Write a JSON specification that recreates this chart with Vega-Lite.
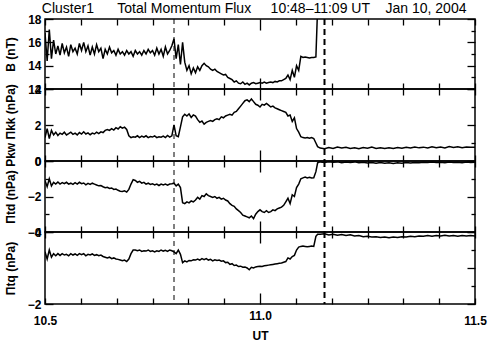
{
"$schema":"https://vega.github.io/schema/vega-lite/v6.json",
"padding":{"left":3,"top":2,"right":5,"bottom":4},
"title":{"text":"Cluster1\u00a0\u00a0\u00a0\u00a0\u00a0\u00a0Total Momentum Flux\u00a0\u00a0\u00a0\u00a0\u00a010:48–11:09 UT\u00a0\u00a0\u00a0\u00a0Jan 10, 2004","font":"Liberation Sans","fontSize":14,"fontWeight":"normal","color":"black","anchor":"middle","offset":-4,"dx":9},
"config":{
 "view":{"stroke":"black","strokeWidth":1.5},
 "axis":{"domain":false,"grid":false,"tickColor":"black","tickWidth":1.3,"labelColor":"black","labelFont":"Liberation Sans","labelFontSize":12,"labelFontWeight":"bold","titleFont":"Liberation Sans","titleFontSize":12,"titleFontWeight":"bold","titleColor":"black","labelFlush":false,"labelOverlap":false,"labelBound":false}
},
"datasets":{
"d":[
{"t":10.500,"B":16.8,"k":1.3,"d":-1.1,"q":-0.55},
{"t":10.505,"B":14.4,"k":1.8,"d":-1.45,"q":-0.75},
{"t":10.510,"B":17.1,"k":1.25,"d":-1.0,"q":-0.5},
{"t":10.515,"B":14.6,"k":1.7,"d":-1.4,"q":-0.7},
{"t":10.520,"B":16.2,"k":1.45,"d":-1.2,"q":-0.6},
{"t":10.525,"B":15.0,"k":1.6,"d":-1.3,"q":-0.66},
{"t":10.530,"B":15.7,"k":1.42,"d":-1.18,"q":-0.6},
{"t":10.535,"B":14.9,"k":1.55,"d":-1.3,"q":-0.65},
{"t":10.540,"B":15.9,"k":1.48,"d":-1.22,"q":-0.6},
{"t":10.545,"B":15.1,"k":1.6,"d":-1.28,"q":-0.64},
{"t":10.550,"B":15.6,"k":1.45,"d":-1.2,"q":-0.62},
{"t":10.555,"B":14.8,"k":1.52,"d":-1.3,"q":-0.66},
{"t":10.560,"B":15.8,"k":1.6,"d":-1.25,"q":-0.6},
{"t":10.565,"B":15.2,"k":1.48,"d":-1.32,"q":-0.64},
{"t":10.570,"B":15.5,"k":1.55,"d":-1.22,"q":-0.61},
{"t":10.575,"B":15.0,"k":1.45,"d":-1.3,"q":-0.65},
{"t":10.580,"B":15.9,"k":1.58,"d":-1.2,"q":-0.6},
{"t":10.585,"B":15.3,"k":1.5,"d":-1.28,"q":-0.63},
{"t":10.590,"B":16.0,"k":1.62,"d":-1.24,"q":-0.6},
{"t":10.595,"B":15.2,"k":1.5,"d":-1.34,"q":-0.66},
{"t":10.600,"B":15.7,"k":1.56,"d":-1.26,"q":-0.62},
{"t":10.605,"B":14.9,"k":1.46,"d":-1.32,"q":-0.64},
{"t":10.610,"B":15.6,"k":1.55,"d":-1.25,"q":-0.61},
{"t":10.615,"B":15.0,"k":1.5,"d":-1.3,"q":-0.65},
{"t":10.620,"B":15.8,"k":1.6,"d":-1.35,"q":-0.63},
{"t":10.625,"B":15.2,"k":1.52,"d":-1.4,"q":-0.66},
{"t":10.630,"B":15.5,"k":1.62,"d":-1.38,"q":-0.64},
{"t":10.635,"B":14.6,"k":1.58,"d":-1.45,"q":-0.68},
{"t":10.640,"B":15.4,"k":1.7,"d":-1.5,"q":-0.7},
{"t":10.645,"B":15.0,"k":1.75,"d":-1.48,"q":-0.72},
{"t":10.650,"B":15.6,"k":1.7,"d":-1.55,"q":-0.7},
{"t":10.655,"B":15.1,"k":1.8,"d":-1.52,"q":-0.74},
{"t":10.660,"B":15.3,"k":1.72,"d":-1.6,"q":-0.72},
{"t":10.665,"B":14.9,"k":1.85,"d":-1.58,"q":-0.75},
{"t":10.670,"B":15.4,"k":1.78,"d":-1.65,"q":-0.76},
{"t":10.675,"B":15.0,"k":1.9,"d":-1.7,"q":-0.78},
{"t":10.680,"B":15.2,"k":1.82,"d":-1.72,"q":-0.8},
{"t":10.685,"B":14.9,"k":1.88,"d":-1.68,"q":-0.78},
{"t":10.690,"B":15.3,"k":1.75,"d":-1.75,"q":-0.82},
{"t":10.695,"B":15.0,"k":1.4,"d":-1.6,"q":-0.75},
{"t":10.700,"B":15.2,"k":1.3,"d":-1.3,"q":-0.6},
{"t":10.705,"B":14.8,"k":1.35,"d":-1.05,"q":-0.5},
{"t":10.710,"B":15.3,"k":1.32,"d":-1.1,"q":-0.5},
{"t":10.715,"B":15.0,"k":1.4,"d":-1.2,"q":-0.52},
{"t":10.720,"B":15.2,"k":1.3,"d":-1.15,"q":-0.5},
{"t":10.725,"B":14.9,"k":1.38,"d":-1.25,"q":-0.54},
{"t":10.730,"B":15.3,"k":1.32,"d":-1.2,"q":-0.52},
{"t":10.735,"B":15.0,"k":1.4,"d":-1.3,"q":-0.53},
{"t":10.740,"B":15.4,"k":1.3,"d":-1.25,"q":-0.5},
{"t":10.745,"B":15.1,"k":1.36,"d":-1.32,"q":-0.54},
{"t":10.750,"B":15.3,"k":1.33,"d":-1.28,"q":-0.52},
{"t":10.755,"B":14.9,"k":1.4,"d":-1.35,"q":-0.55},
{"t":10.760,"B":15.5,"k":1.3,"d":-1.3,"q":-0.52},
{"t":10.765,"B":15.0,"k":1.35,"d":-1.38,"q":-0.54},
{"t":10.770,"B":15.4,"k":1.32,"d":-1.3,"q":-0.5},
{"t":10.775,"B":14.8,"k":1.38,"d":-1.35,"q":-0.53},
{"t":10.780,"B":15.6,"k":1.3,"d":-1.3,"q":-0.51},
{"t":10.785,"B":15.0,"k":1.42,"d":-1.36,"q":-0.54},
{"t":10.790,"B":15.3,"k":1.33,"d":-1.3,"q":-0.5},
{"t":10.795,"B":15.7,"k":1.4,"d":-1.28,"q":-0.52},
{"t":10.800,"B":16.3,"k":2.0,"d":-1.25,"q":-0.55},
{"t":10.805,"B":14.6,"k":1.4,"d":-1.4,"q":-0.6},
{"t":10.810,"B":15.8,"k":1.35,"d":-1.3,"q":-0.5},
{"t":10.815,"B":14.1,"k":1.9,"d":-1.5,"q":-0.62},
{"t":10.820,"B":16.0,"k":2.45,"d":-2.35,"q":-0.85},
{"t":10.825,"B":14.3,"k":2.6,"d":-2.4,"q":-0.8},
{"t":10.830,"B":13.6,"k":2.5,"d":-2.3,"q":-0.83},
{"t":10.835,"B":14.0,"k":2.62,"d":-2.36,"q":-0.79},
{"t":10.840,"B":13.3,"k":2.42,"d":-2.25,"q":-0.8},
{"t":10.845,"B":13.8,"k":2.56,"d":-2.3,"q":-0.77},
{"t":10.850,"B":13.4,"k":2.5,"d":-2.2,"q":-0.78},
{"t":10.855,"B":13.9,"k":2.3,"d":-2.05,"q":-0.75},
{"t":10.860,"B":13.6,"k":2.15,"d":-2.15,"q":-0.78},
{"t":10.865,"B":14.0,"k":2.22,"d":-1.95,"q":-0.74},
{"t":10.870,"B":14.2,"k":2.05,"d":-2.0,"q":-0.77},
{"t":10.875,"B":14.0,"k":2.15,"d":-1.85,"q":-0.74},
{"t":10.880,"B":13.9,"k":2.2,"d":-1.95,"q":-0.78},
{"t":10.885,"B":13.7,"k":2.25,"d":-2.0,"q":-0.76},
{"t":10.890,"B":13.6,"k":2.2,"d":-2.05,"q":-0.8},
{"t":10.895,"B":13.7,"k":2.3,"d":-2.0,"q":-0.77},
{"t":10.900,"B":13.5,"k":2.35,"d":-2.1,"q":-0.79},
{"t":10.905,"B":13.4,"k":2.3,"d":-2.05,"q":-0.78},
{"t":10.910,"B":13.3,"k":2.45,"d":-2.15,"q":-0.81},
{"t":10.915,"B":13.2,"k":2.4,"d":-2.1,"q":-0.8},
{"t":10.920,"B":13.25,"k":2.5,"d":-2.2,"q":-0.85},
{"t":10.925,"B":13.0,"k":2.55,"d":-2.25,"q":-0.84},
{"t":10.930,"B":12.9,"k":2.6,"d":-2.4,"q":-0.9},
{"t":10.935,"B":12.8,"k":2.55,"d":-2.5,"q":-0.88},
{"t":10.940,"B":12.6,"k":2.7,"d":-2.55,"q":-0.93},
{"t":10.945,"B":12.7,"k":2.75,"d":-2.7,"q":-0.92},
{"t":10.950,"B":12.5,"k":2.9,"d":-2.8,"q":-0.96},
{"t":10.955,"B":12.45,"k":3.05,"d":-2.9,"q":-0.95},
{"t":10.960,"B":12.6,"k":3.2,"d":-3.05,"q":-0.98},
{"t":10.965,"B":12.4,"k":3.35,"d":-3.1,"q":-0.97},
{"t":10.970,"B":12.5,"k":3.4,"d":-3.15,"q":-1.0},
{"t":10.975,"B":12.35,"k":3.3,"d":-3.2,"q":-1.05},
{"t":10.980,"B":12.5,"k":3.45,"d":-3.1,"q":-0.98},
{"t":10.985,"B":12.55,"k":3.3,"d":-3.25,"q":-1.0},
{"t":10.990,"B":12.45,"k":3.15,"d":-3.0,"q":-0.97},
{"t":10.995,"B":12.5,"k":3.1,"d":-2.85,"q":-0.96},
{"t":11.000,"B":12.55,"k":3.0,"d":-2.75,"q":-0.95},
{"t":11.005,"B":12.5,"k":3.15,"d":-2.85,"q":-0.96},
{"t":11.010,"B":12.6,"k":3.1,"d":-2.9,"q":-0.94},
{"t":11.015,"B":12.5,"k":3.2,"d":-2.8,"q":-0.93},
{"t":11.020,"B":12.55,"k":3.1,"d":-2.9,"q":-0.92},
{"t":11.025,"B":12.6,"k":3.0,"d":-2.85,"q":-0.91},
{"t":11.030,"B":12.55,"k":3.05,"d":-2.75,"q":-0.9},
{"t":11.035,"B":12.65,"k":2.95,"d":-2.8,"q":-0.89},
{"t":11.040,"B":12.6,"k":2.9,"d":-2.7,"q":-0.88},
{"t":11.045,"B":12.7,"k":2.85,"d":-2.65,"q":-0.87},
{"t":11.050,"B":12.7,"k":2.8,"d":-2.6,"q":-0.86},
{"t":11.055,"B":12.8,"k":2.75,"d":-2.5,"q":-0.84},
{"t":11.060,"B":12.9,"k":2.7,"d":-2.3,"q":-0.82},
{"t":11.065,"B":13.2,"k":2.5,"d":-2.1,"q":-0.72},
{"t":11.070,"B":12.8,"k":2.55,"d":-2.4,"q":-0.75},
{"t":11.075,"B":13.6,"k":2.2,"d":-1.9,"q":-0.68},
{"t":11.080,"B":13.0,"k":2.4,"d":-2.0,"q":-0.65},
{"t":11.085,"B":14.0,"k":1.8,"d":-1.5,"q":-0.5},
{"t":11.090,"B":13.6,"k":1.6,"d":-1.3,"q":-0.42},
{"t":11.095,"B":14.8,"k":1.35,"d":-1.0,"q":-0.4},
{"t":11.100,"B":14.7,"k":1.3,"d":-0.95,"q":-0.39},
{"t":11.105,"B":14.75,"k":1.28,"d":-0.9,"q":-0.4},
{"t":11.110,"B":14.7,"k":1.3,"d":-0.95,"q":-0.41},
{"t":11.115,"B":14.65,"k":1.26,"d":-0.92,"q":-0.4},
{"t":11.120,"B":14.7,"k":1.3,"d":-0.96,"q":-0.39},
{"t":11.125,"B":14.7,"k":1.25,"d":-0.95,"q":-0.4},
{"t":11.130,"B":14.75,"k":1.0,"d":-0.6,"q":-0.12},
{"t":11.134,"B":19,"k":0.8,"d":-0.1,"q":-0.06},
{"t":11.14,"B":null,"k":0.72,"d":-0.05,"q":-0.06},
{"t":11.15,"B":null,"k":0.68,"d":-0.08,"q":-0.05},
{"t":11.16,"B":null,"k":0.75,"d":-0.04,"q":-0.08},
{"t":11.17,"B":null,"k":0.7,"d":-0.07,"q":-0.06},
{"t":11.18,"B":null,"k":0.78,"d":-0.05,"q":-0.09},
{"t":11.19,"B":null,"k":0.72,"d":-0.1,"q":-0.07},
{"t":11.20,"B":null,"k":0.76,"d":-0.06,"q":-0.1},
{"t":11.21,"B":null,"k":0.7,"d":-0.09,"q":-0.08},
{"t":11.22,"B":null,"k":0.74,"d":-0.05,"q":-0.11},
{"t":11.23,"B":null,"k":0.68,"d":-0.1,"q":-0.1},
{"t":11.24,"B":null,"k":0.75,"d":-0.07,"q":-0.13},
{"t":11.25,"B":null,"k":0.71,"d":-0.11,"q":-0.12},
{"t":11.26,"B":null,"k":0.77,"d":-0.08,"q":-0.14},
{"t":11.27,"B":null,"k":0.7,"d":-0.12,"q":-0.13},
{"t":11.28,"B":null,"k":0.74,"d":-0.09,"q":-0.15},
{"t":11.29,"B":null,"k":0.69,"d":-0.13,"q":-0.14},
{"t":11.30,"B":null,"k":0.73,"d":-0.1,"q":-0.16},
{"t":11.31,"B":null,"k":0.7,"d":-0.14,"q":-0.14},
{"t":11.32,"B":null,"k":0.75,"d":-0.1,"q":-0.15},
{"t":11.33,"B":null,"k":0.71,"d":-0.12,"q":-0.13},
{"t":11.34,"B":null,"k":0.76,"d":-0.09,"q":-0.14},
{"t":11.35,"B":null,"k":0.72,"d":-0.11,"q":-0.12},
{"t":11.36,"B":null,"k":0.78,"d":-0.08,"q":-0.13},
{"t":11.37,"B":null,"k":0.73,"d":-0.1,"q":-0.11},
{"t":11.38,"B":null,"k":0.77,"d":-0.07,"q":-0.12},
{"t":11.39,"B":null,"k":0.72,"d":-0.09,"q":-0.1},
{"t":11.40,"B":null,"k":0.79,"d":-0.06,"q":-0.12},
{"t":11.41,"B":null,"k":0.74,"d":-0.09,"q":-0.1},
{"t":11.42,"B":null,"k":0.78,"d":-0.07,"q":-0.11},
{"t":11.43,"B":null,"k":0.73,"d":-0.1,"q":-0.09},
{"t":11.44,"B":null,"k":0.8,"d":-0.06,"q":-0.11},
{"t":11.45,"B":null,"k":0.75,"d":-0.09,"q":-0.1},
{"t":11.46,"B":null,"k":0.79,"d":-0.07,"q":-0.12},
{"t":11.47,"B":null,"k":0.74,"d":-0.1,"q":-0.1},
{"t":11.48,"B":null,"k":0.78,"d":-0.06,"q":-0.11},
{"t":11.49,"B":null,"k":0.76,"d":-0.09,"q":-0.1},
{"t":11.50,"B":null,"k":0.77,"d":-0.07,"q":-0.11}
]
},
"vconcat":[
{
 "width":430,"height":70,"data":{"name":"d"},
 "layer":[
  {"mark":{"type":"line","color":"black","strokeWidth":1.5,"clip":true},
   "encoding":{
    "x":{"field":"t","type":"quantitative","scale":{"domain":[10.5,11.5],"nice":false,"zero":false},"axis":{"orient":"bottom","title":null,"labels":false,"values":[10.5,10.58333,10.66667,10.75,10.83333,10.91667,11.0,11.08333,11.16667,11.25,11.33333,11.41667,11.5],"tickSize":{"condition":{"test":"abs(datum.value-11)>0.001","value":-6},"value":-11}}},
    "y":{"field":"B","type":"quantitative","scale":{"domain":[12,18],"nice":false,"zero":false},"axis":{"orient":"left","title":"B (nT)","titleX":-28,"values":[12,13,14,15,16,17,18],"format":"d","labelExpr":"datum.value % 2 == 0 ? datum.label : ''","labelPadding":12,"tickSize":{"condition":{"test":"datum.value % 2 != 0","value":-4},"value":-8}}}}},
  {"mark":{"type":"line","opacity":0,"clip":true},
   "encoding":{
    "x":{"field":"t","type":"quantitative","axis":{"orient":"top","title":null,"labels":false,"values":[10.5,10.58333,10.66667,10.75,10.83333,10.91667,11.0,11.08333,11.16667,11.25,11.33333,11.41667,11.5],"tickSize":{"condition":{"test":"abs(datum.value-11)>0.001","value":-6},"value":-11}}},
    "y":{"field":"B","type":"quantitative","axis":{"orient":"right","title":null,"labels":false,"values":[12,13,14,15,16,17,18],"tickSize":{"condition":{"test":"datum.value % 2 != 0","value":-4},"value":-8}}}}},
  {"data":{"values":[{"t":10.8}]},"mark":{"type":"rule","color":"black","strokeDash":[5,4],"strokeWidth":1},"encoding":{"x":{"field":"t","type":"quantitative","axis":null}}},
  {"data":{"values":[{"t":11.15}]},"mark":{"type":"rule","color":"black","strokeDash":[6,4],"strokeWidth":2},"encoding":{"x":{"field":"t","type":"quantitative","axis":null}}}
 ],
 "resolve":{"axis":{"x":"independent","y":"independent"}}
},
{
 "width":430,"height":72,"data":{"name":"d"},
 "layer":[
  {"mark":{"type":"line","color":"black","strokeWidth":1.5,"clip":true},
   "encoding":{
    "x":{"field":"t","type":"quantitative","scale":{"domain":[10.5,11.5],"nice":false,"zero":false},"axis":{"orient":"bottom","title":null,"labels":false,"values":[10.5,10.58333,10.66667,10.75,10.83333,10.91667,11.0,11.08333,11.16667,11.25,11.33333,11.41667,11.5],"tickSize":{"condition":{"test":"abs(datum.value-11)>0.001","value":-6},"value":-11}}},
    "y":{"field":"k","type":"quantitative","scale":{"domain":[0,4],"nice":false},"axis":{"orient":"left","title":"Pkw  Πkk (nPa)","titleX":-28,"values":[0,1,2,3,4],"format":"d","labelExpr":"datum.value % 2 == 0 ? datum.label : ''","labelPadding":12,"tickSize":{"condition":{"test":"datum.value % 2 != 0","value":-4},"value":-8}}}}},
  {"mark":{"type":"line","opacity":0,"clip":true},
   "encoding":{
    "x":{"field":"t","type":"quantitative","axis":{"orient":"top","title":null,"labels":false,"values":[10.5,10.58333,10.66667,10.75,10.83333,10.91667,11.0,11.08333,11.16667,11.25,11.33333,11.41667,11.5],"tickSize":{"condition":{"test":"abs(datum.value-11)>0.001","value":-6},"value":-11}}},
    "y":{"field":"k","type":"quantitative","axis":{"orient":"right","title":null,"labels":false,"values":[0,1,2,3,4],"tickSize":{"condition":{"test":"datum.value % 2 != 0","value":-4},"value":-8}}}}},
  {"data":{"values":[{"t":10.8}]},"mark":{"type":"rule","color":"black","strokeDash":[5,4],"strokeWidth":1},"encoding":{"x":{"field":"t","type":"quantitative","axis":null}}},
  {"data":{"values":[{"t":11.15}]},"mark":{"type":"rule","color":"black","strokeDash":[6,4],"strokeWidth":2},"encoding":{"x":{"field":"t","type":"quantitative","axis":null}}}
 ],
 "resolve":{"axis":{"x":"independent","y":"independent"}}
},
{
 "width":430,"height":71,"data":{"name":"d"},
 "layer":[
  {"mark":{"type":"line","color":"black","strokeWidth":1.5,"clip":true},
   "encoding":{
    "x":{"field":"t","type":"quantitative","scale":{"domain":[10.5,11.5],"nice":false,"zero":false},"axis":{"orient":"bottom","title":null,"labels":false,"values":[10.5,10.58333,10.66667,10.75,10.83333,10.91667,11.0,11.08333,11.16667,11.25,11.33333,11.41667,11.5],"tickSize":{"condition":{"test":"abs(datum.value-11)>0.001","value":-6},"value":-11}}},
    "y":{"field":"d","type":"quantitative","scale":{"domain":[-4,0],"nice":false},"axis":{"orient":"left","title":"Πtd (nPa)","titleX":-28,"values":[-4,-3,-2,-1,0],"format":"d","labelExpr":"datum.value % 2 == 0 ? datum.label : ''","labelPadding":12,"tickSize":{"condition":{"test":"datum.value % 2 != 0","value":-4},"value":-8}}}}},
  {"mark":{"type":"line","opacity":0,"clip":true},
   "encoding":{
    "x":{"field":"t","type":"quantitative","axis":{"orient":"top","title":null,"labels":false,"values":[10.5,10.58333,10.66667,10.75,10.83333,10.91667,11.0,11.08333,11.16667,11.25,11.33333,11.41667,11.5],"tickSize":{"condition":{"test":"abs(datum.value-11)>0.001","value":-6},"value":-11}}},
    "y":{"field":"d","type":"quantitative","axis":{"orient":"right","title":null,"labels":false,"values":[-4,-3,-2,-1,0],"tickSize":{"condition":{"test":"datum.value % 2 != 0","value":-4},"value":-8}}}}},
  {"data":{"values":[{"t":10.8}]},"mark":{"type":"rule","color":"black","strokeDash":[5,4],"strokeWidth":1},"encoding":{"x":{"field":"t","type":"quantitative","axis":null}}},
  {"data":{"values":[{"t":11.15}]},"mark":{"type":"rule","color":"black","strokeDash":[6,4],"strokeWidth":2},"encoding":{"x":{"field":"t","type":"quantitative","axis":null}}}
 ],
 "resolve":{"axis":{"x":"independent","y":"independent"}}
},
{
 "width":430,"height":72,"data":{"name":"d"},
 "layer":[
  {"mark":{"type":"line","color":"black","strokeWidth":1.5,"clip":true},
   "encoding":{
    "x":{"field":"t","type":"quantitative","scale":{"domain":[10.5,11.5],"nice":false,"zero":false},"axis":{"orient":"bottom","title":"UT","titlePadding":4,"format":".1f","labelPadding":17,"labelExpr":"abs(datum.value*2-round(datum.value*2))<0.001 ? datum.label : ''","values":[10.5,10.58333,10.66667,10.75,10.83333,10.91667,11.0,11.08333,11.16667,11.25,11.33333,11.41667,11.5],"tickSize":{"condition":{"test":"abs(datum.value-11)>0.001","value":-6},"value":-11}}},
    "y":{"field":"q","type":"quantitative","scale":{"domain":[-2,0],"nice":false},"axis":{"orient":"left","title":"Πtq (nPa)","titleX":-28,"values":[-2,-1.5,-1,-0.5,0],"format":"d","labelExpr":"datum.value % 1 == 0 ? datum.label : ''","labelPadding":12,"tickSize":{"condition":{"test":"datum.value % 1 != 0","value":-4},"value":-8}}}}},
  {"mark":{"type":"line","opacity":0,"clip":true},
   "encoding":{
    "x":{"field":"t","type":"quantitative","axis":{"orient":"top","title":null,"labels":false,"values":[10.5,10.58333,10.66667,10.75,10.83333,10.91667,11.0,11.08333,11.16667,11.25,11.33333,11.41667,11.5],"tickSize":{"condition":{"test":"abs(datum.value-11)>0.001","value":-6},"value":-11}}},
    "y":{"field":"q","type":"quantitative","axis":{"orient":"right","title":null,"labels":false,"values":[-2,-1.5,-1,-0.5,0],"tickSize":{"condition":{"test":"datum.value % 1 != 0","value":-4},"value":-8}}}}},
  {"data":{"values":[{"t":10.8}]},"mark":{"type":"rule","color":"black","strokeDash":[5,4],"strokeWidth":1},"encoding":{"x":{"field":"t","type":"quantitative","axis":null}}},
  {"data":{"values":[{"t":11.15}]},"mark":{"type":"rule","color":"black","strokeDash":[6,4],"strokeWidth":2},"encoding":{"x":{"field":"t","type":"quantitative","axis":null}}}
 ],
 "resolve":{"axis":{"x":"independent","y":"independent"}}
}
],
"spacing":0,
"bounds":"flush"
}
